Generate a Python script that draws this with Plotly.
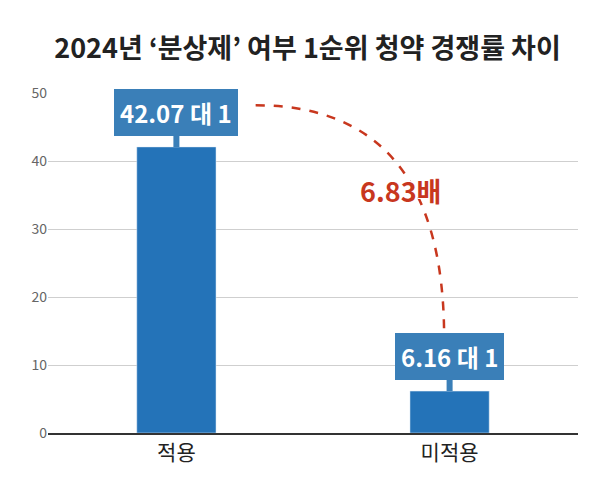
import plotly.graph_objects as go

categories = ["적용", "미적용"]
values = [42.07, 6.16]
labels = ["42.07 대 1", "6.16 대 1"]
ratio_text = "6.83배"
title = "2024년 ‘분상제’ 여부 1순위 청약 경쟁률 차이"

blue = "#2473B8"
label_blue = "#3A7FB8"
red = "#C8371E"
font = "Noto Sans CJK KR"

fig = go.Figure()
fig.add_trace(go.Bar(x=categories, y=values, marker_color=blue, width=0.29,
                     hoverinfo="skip"))

for i, (c, v, t) in enumerate(zip(categories, values, labels)):
    fig.add_annotation(x=c, y=v, text="<b>" + t + "</b>", showarrow=True,
                       arrowhead=0, arrowwidth=6, arrowcolor=label_blue,
                       ax=0, ay=-11, yanchor="bottom", xanchor="center",
                       bgcolor=label_blue, borderpad=5, bordercolor=label_blue,
                       font=dict(family=font, size=24, color="white"))

fig.add_shape(type="path", xref="x", yref="y",
              path="M 0.29,48.2 Q 0.98,48.2 0.98,14",
              line=dict(color=red, width=2.5, dash="dash"))

fig.add_annotation(x=0.82, y=35.7, text="<b>" + ratio_text + "</b>", showarrow=False,
                   font=dict(family=font, size=27, color=red,
                             shadow="1px 1px 0 #fff, -1px -1px 0 #fff, 1px -1px 0 #fff, -1px 1px 0 #fff"))

fig.update_layout(
    width=599, height=485,
    margin=dict(l=40, r=29, t=85, b=60),
    paper_bgcolor="white", plot_bgcolor="white",
    showlegend=False,
    title=dict(text="<b>" + title + "</b>", x=0.5, xanchor="center", y=0.935,
               font=dict(family=font, size=27, color="#222")),
    font=dict(family=font),
)
fig.update_yaxes(range=[0, 50], dtick=10, gridcolor="#CFCFCF", zeroline=False,
                 tickfont=dict(size=14, color="#666"), showline=False, fixedrange=True)
fig.update_xaxes(range=[-0.47, 1.47], showline=True, linecolor="#333", linewidth=1.5,
                 tickfont=dict(size=21, color="#222"))

fig.write_html("out.html")
